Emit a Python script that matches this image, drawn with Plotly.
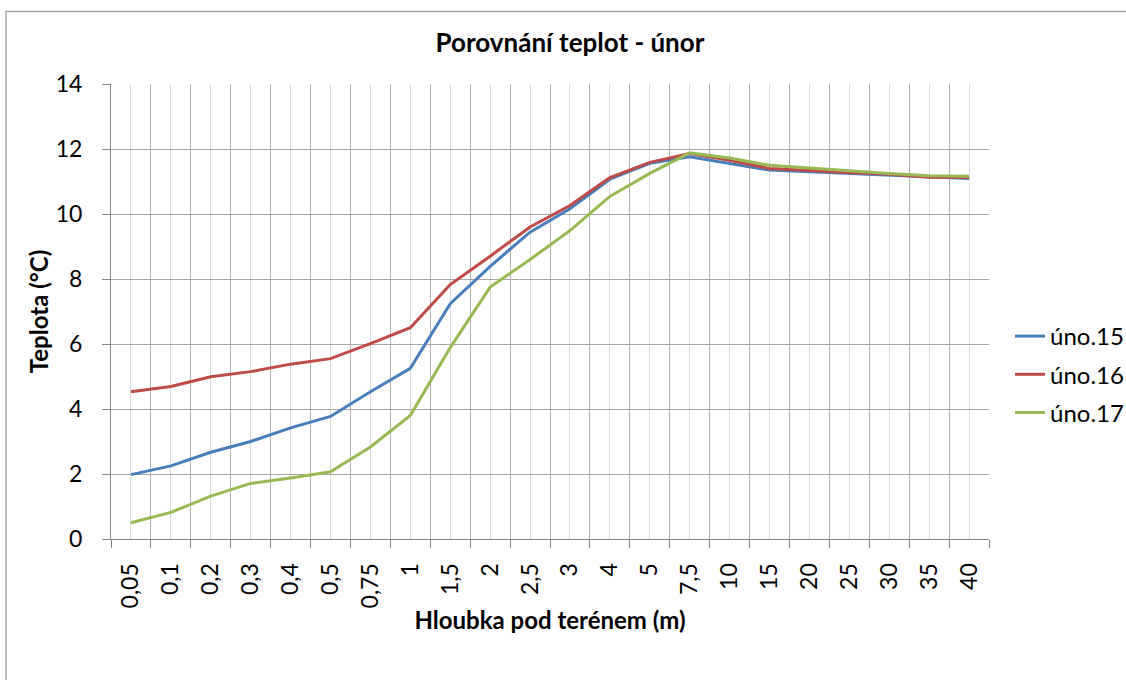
import plotly.graph_objects as go

# Data
depths = ["0,05", "0,1", "0,2", "0,3", "0,4", "0,5", "0,75", "1", "1,5", "2", "2,5",
          "3", "4", "5", "7,5", "10", "15", "20", "25", "30", "35", "40"]
uno15 = [1.98, 2.25, 2.67, 3.00, 3.42, 3.77, 4.53, 5.25, 7.24, 8.39, 9.44,
         10.16, 11.07, 11.56, 11.76, 11.56, 11.35, 11.30, 11.25, 11.20, 11.14, 11.09]
uno16 = [4.53, 4.69, 4.99, 5.15, 5.38, 5.55, 6.01, 6.50, 7.83, 8.70, 9.60,
         10.26, 11.12, 11.59, 11.86, 11.65, 11.40, 11.33, 11.28, 11.22, 11.13, 11.12]
uno17 = [0.50, 0.82, 1.32, 1.71, 1.88, 2.07, 2.83, 3.80, 5.89, 7.75, 8.60,
         9.49, 10.54, 11.25, 11.88, 11.72, 11.50, 11.41, 11.33, 11.25, 11.18, 11.16]
series_names = ["úno.15", "úno.16", "úno.17"]
series_values = [uno15, uno16, uno17]
colors = ["#4A7EBB", "#BE4B48", "#98B954"]
y_ticks = [0, 2, 4, 6, 8, 10, 12, 14]

idx = list(range(len(depths)))
font_family = "Lato, 'Open Sans', sans-serif"

W, H = 1126, 680
L, R, T, B = 111, 989, 84, 539

fig = go.Figure()
for i, (name, vals, col) in enumerate(zip(series_names, series_values, colors)):
    fig.add_trace(go.Scatter(
        x=idx, y=vals, mode="lines", name=name,
        line=dict(color=col, width=3),
        legendgroup=f"g{i}",
    ))

fig.update_layout(
    width=W, height=H,
    paper_bgcolor="white", plot_bgcolor="white",
    margin=dict(l=L, r=W - R, t=T, b=H - B, autoexpand=False),
    font=dict(family=font_family, size=23, color="black"),
    title=dict(text="<b>Porovnání teplot - únor</b>", x=570 / W, xanchor="center",
               xref="container", y=1 - 43 / H, yanchor="middle", yref="container",
               font=dict(size=26)),
    showlegend=True,
    legend=dict(x=1010 / W, xref="container", xanchor="left",
                y=1 - 314 / H, yref="container", yanchor="top",
                traceorder="grouped", tracegroupgap=4,
                font=dict(size=24), bgcolor="rgba(0,0,0,0)",
                itemwidth=30),
    xaxis=dict(
        range=[-0.5, len(depths) - 0.5],
        tickmode="array", tickvals=idx, ticktext=depths, tickangle=-90,
        ticks="outside", ticklen=14, tickcolor="rgba(0,0,0,0)",
        showgrid=True, gridcolor="#D9D9D9", gridwidth=1,
        showline=True, linecolor="#868686", linewidth=1,
        zeroline=False,
        minor=dict(tickmode="array", tickvals=[i - 0.5 for i in range(len(depths) + 1)],
                   showgrid=True, gridcolor="#B3B3B3", gridwidth=1,
                   ticks="outside", ticklen=8, tickcolor="#868686"),
        title=dict(text="<b>Hloubka pod terénem (m)</b>", standoff=4, font=dict(size=24)),
        fixedrange=True,
    ),
    yaxis=dict(
        range=[0, 14], tickmode="array", tickvals=y_ticks,
        ticks="outside", ticklen=8, tickcolor="#868686",
        ticklabelstandoff=15,
        showgrid=True, gridcolor="#A6A6A6", gridwidth=1,
        showline=True, linecolor="#868686", linewidth=1,
        zeroline=False,
        title=dict(text="<b>Teplota (°C)</b>", standoff=0, font=dict(size=24)),
        fixedrange=True,
    ),
    shapes=[dict(type="rect", xref="paper", yref="paper",
                 x0=(6 - L) / (R - L), x1=(1140 - L) / (R - L),
                 y0=(B - 700) / (B - T), y1=(B - 11.5) / (B - T),
                 line=dict(color="#A6A6A6", width=1.5), fillcolor="rgba(0,0,0,0)",
                 layer="below")],
)

fig.write_html("out.html", config={"displayModeBar": False},
               post_script="document.body.style.margin='0';document.body.style.overflow='hidden';")
